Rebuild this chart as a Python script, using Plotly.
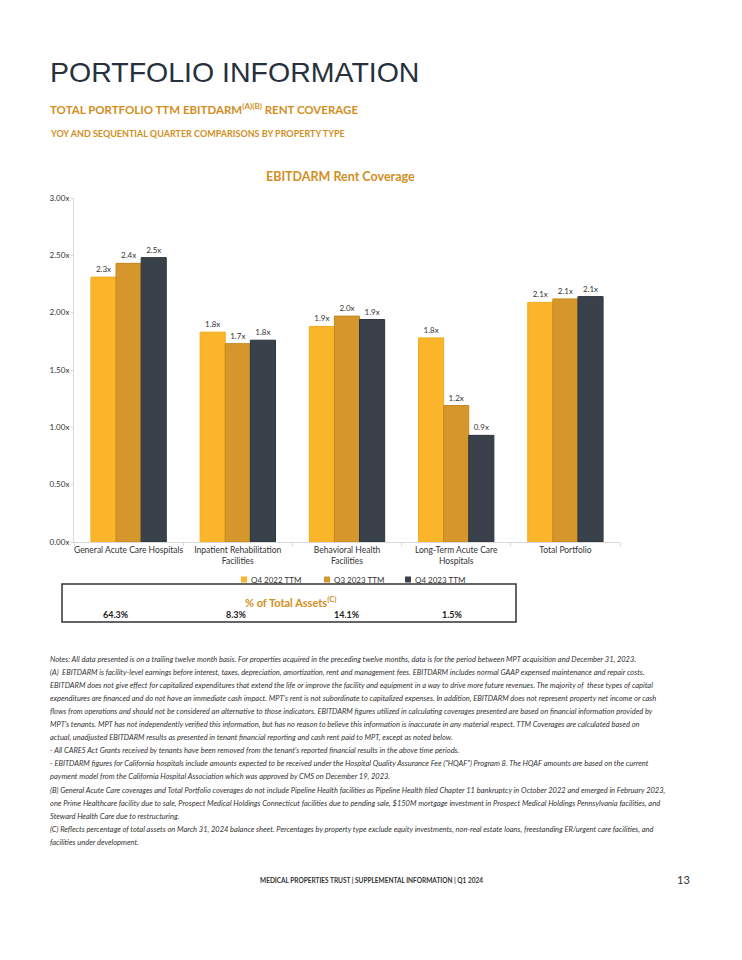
import plotly.graph_objects as go

categories = ["General Acute Care Hospitals", "Inpatient Rehabilitation<br>Facilities",
              "Behavioral Health<br>Facilities", "Long-Term Acute Care<br>Hospitals", "Total Portfolio"]
series_names = ["Q4 2022 TTM", "Q3 2023 TTM", "Q4 2023 TTM"]
q4_2022 = [2.31, 1.83, 1.88, 1.78, 2.09]
q3_2023 = [2.43, 1.73, 1.97, 1.19, 2.12]
q4_2023 = [2.48, 1.76, 1.94, 0.93, 2.14]
y_ticks = [0.0, 0.5, 1.0, 1.5, 2.0, 2.5, 3.0]
y_tick_labels = ["0.00x", "0.50x", "1.00x", "1.50x", "2.00x", "2.50x", "3.00x"]
pct_assets = ["64.3%", "8.3%", "14.1%", "1.5%"]

notes = [
    "Notes: All data presented is on a trailing twelve month basis. For properties acquired in the preceding twelve months, data is for the period between MPT acquisition and December 31, 2023.",
    "(A)  EBITDARM is facility-level earnings before interest, taxes, depreciation, amortization, rent and management fees. EBITDARM includes normal GAAP expensed maintenance and repair costs.",
    "EBITDARM does not give effect for capitalized expenditures that extend the life or improve the facility and equipment in a way to drive more future revenues. The majority of  these types of capital",
    "expenditures are financed and do not have an immediate cash impact. MPT's rent is not subordinate to capitalized expenses. In addition, EBITDARM does not represent property net income or cash",
    "flows from operations and should not be considered an alternative to those indicators. EBITDARM figures utilized in calculating coverages presented are based on financial information provided by",
    "MPT's tenants. MPT has not independently verified this information, but has no reason to believe this information is inaccurate in any material respect. TTM Coverages are calculated based on",
    "actual, unadjusted EBITDARM results as presented in tenant financial reporting and cash rent paid to MPT, except as noted below.",
    "- All CARES Act Grants received by tenants have been removed from the tenant's reported financial results in the above time periods.",
    "- EBITDARM figures for California hospitals include amounts expected to be received under the Hospital Quality Assurance Fee (\"HQAF\") Program 8. The HQAF amounts are based on the current",
    "payment model from the California Hospital Association which was approved by CMS on December 19, 2023.",
    "(B) General Acute Care coverages and Total Portfolio coverages do not include Pipeline Health facilities as Pipeline Health filed Chapter 11 bankruptcy in October 2022 and emerged in February 2023,",
    "one Prime Healthcare facility due to sale, Prospect Medical Holdings Connecticut facilities due to pending sale, $150M mortgage investment in Prospect Medical Holdings Pennsylvania facilities, and",
    "Steward Health Care due to restructuring.",
    "(C) Reflects percentage of total assets on March 31, 2024 balance sheet. Percentages by property type exclude equity investments, non-real estate loans, freestanding ER/urgent care facilities, and",
    "facilities under development.",
]

OFF = 8  # page body margin
W, H = 742 - 2 * OFF, 960 - 2 * OFF
X0, X1, YT, YB = 74, 620, 198, 542  # plot area in page pixels
FONT = "Lato"
ORANGE = "#D18F1E"

def px(x, y):
    return (x - X0) / (X1 - X0), (YB - y) / (YB - YT)

colors = ["#FBB52B", "#D5972B", "#39424B"]
edges = ["#F2AA20", "#C8871F", "#2C343C"]

fig = go.Figure()
for name, vals, c, e in zip(series_names, [q4_2022, q3_2023, q4_2023], colors, edges):
    fig.add_trace(go.Bar(
        x=categories, y=vals, name=name,
        marker=dict(color=c, line=dict(color=e, width=1)),
        texttemplate="%{y:.1f}x", textposition="outside",
        textfont=dict(family=FONT, size=8, color="#333333"),
        cliponaxis=False, showlegend=False,
    ))

fig.update_layout(
    width=W, height=H,
    margin=dict(l=X0 - OFF, r=(W + OFF) - X1, t=YT - OFF, b=(H + OFF) - YB, pad=0),
    paper_bgcolor="white", plot_bgcolor="white",
    barmode="group", bargap=0.31, bargroupgap=0,
    font=dict(family=FONT, color="#333333"),
    showlegend=False,
    xaxis=dict(showline=True, linecolor="#D9D9D9", linewidth=1, ticks="outside", tickson="boundaries",
               ticklen=3, tickcolor="#D9D9D9", tickangle=0,
               tickfont=dict(family=FONT, size=8.5, color="#333333"),
               showgrid=False, fixedrange=True),
    yaxis=dict(range=[0, 3], tickmode="array", tickvals=y_ticks, ticktext=y_tick_labels, showline=True,
               linecolor="#D9D9D9", linewidth=1, showgrid=False, zeroline=False,
               ticks="outside", ticklen=2, tickcolor="#D9D9D9",
               tickfont=dict(family=FONT, size=8, color="#333333")),
)

ann = []
def add_text(x, y, text, size, color="#333333", bold=False, italic=False, xanchor="left", family=FONT):
    xp, yp = px(x, y)
    t = text
    if bold:
        t = "<b>" + t + "</b>"
    if italic:
        t = "<i>" + t + "</i>"
    ann.append(dict(x=xp, y=yp, xref="paper", yref="paper", text=t, showarrow=False,
                    xanchor=xanchor, yanchor="middle", font=dict(family=family, size=size, color=color)))

add_text(48, 72, "PORTFOLIO INFORMATION", 28.5, color="#26313D", family="Liberation Sans")
add_text(48, 108, "TOTAL PORTFOLIO TTM EBITDARM<sup>(A)(B)</sup> RENT COVERAGE", 11.5, color=ORANGE, bold=True)
add_text(48, 133, "YOY AND SEQUENTIAL QUARTER COMPARISONS BY PROPERTY TYPE", 9, color=ORANGE, bold=True)
add_text(340, 176, "EBITDARM Rent Coverage", 12.5, color=ORANGE, bold=True, xanchor="center")

# manual legend
shapes = []
for xs, name, c in zip([244, 327, 408], series_names, colors):
    a0, b0 = px(xs - 3, 582.5)
    a1, b1 = px(xs + 3, 576.5)
    shapes.append(dict(type="rect", xref="paper", yref="paper", x0=a0, y0=b0, x1=a1, y1=b1,
                       fillcolor=c, line=dict(width=0)))
    add_text(xs + 5, 579.5, name, 8, color="#333333")

# % of total assets box
add_text(290, 601, "% of Total Assets<sup>(C)</sup>", 11, color=ORANGE, bold=True, xanchor="center")
for xc, v in zip([116, 236, 347, 452], pct_assets):
    add_text(xc, 614, v, 9, color="#222222", bold=True, xanchor="center")

bx0, by0 = px(62, 622)
bx1, by1 = px(516, 584)
shapes.append(dict(type="rect", xref="paper", yref="paper", x0=bx0, y0=by0, x1=bx1, y1=by1,
                   line=dict(color="#333333", width=1.5), fillcolor="rgba(0,0,0,0)"))

y = 659
for line in notes:
    add_text(48, y, line, 7.5, color="#333333", italic=True)
    y += 13.1

add_text(371, 880, "MEDICAL PROPERTIES TRUST | SUPPLEMENTAL INFORMATION | Q1 2024", 6.5, color="#333333", bold=True, xanchor="center")
add_text(692, 879, "13", 11, color="#333333", xanchor="right")

fig.update_layout(annotations=ann, shapes=shapes)

fig.write_html("out.html")
